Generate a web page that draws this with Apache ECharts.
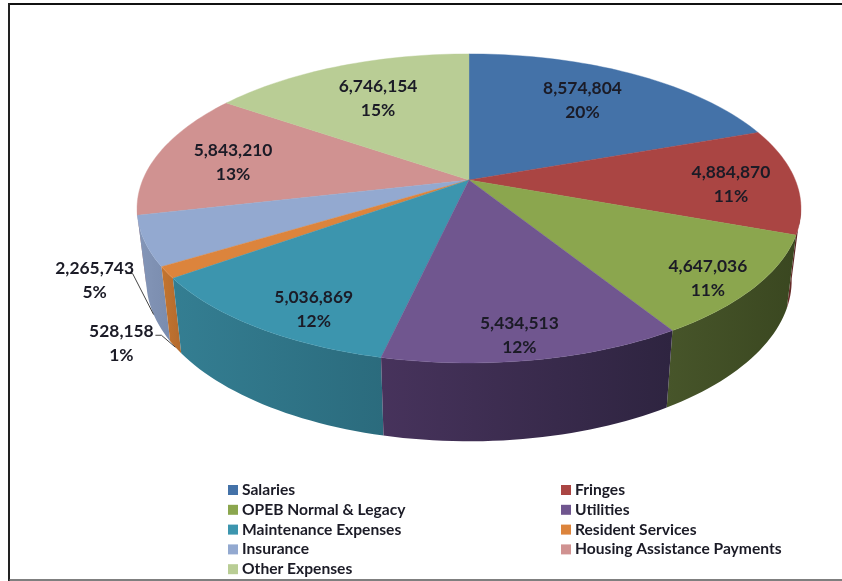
<!DOCTYPE html>
<html>
<head>
<meta charset="utf-8">
<title>Expenses by category</title>
<script src="https://cdn.jsdelivr.net/npm/echarts@6/dist/echarts.min.js"></script>
<style>
html,body{margin:0;padding:0;background:#fff}
#chart{width:842px;height:581px}
</style>
</head>
<body>
<div id="chart"></div>
<script>
// Expense categories and amounts, clockwise from twelve o'clock
const categories = ['Salaries','Fringes','OPEB Normal & Legacy','Utilities','Maintenance Expenses','Resident Services','Insurance','Housing Assistance Payments','Other Expenses'];
const amounts = [8574804,4884870,4647036,5434513,5036869,528158,2265743,5843210,6746154];
const percentLabels = ['20%','11%','11%','12%','12%','1%','5%','13%','15%'];

// Surface and wall shades per slice
const topColors  = ['#4472a8','#aa4543','#8ba64e','#70568f','#3c95ae','#dc843c','#93a9d0','#d09291','#b9cd95'];
const wallLight  = ['#2c4a6e','#6e2d2b','#47552a','#47335c','#347e92','#c4752f','#8496b8','#b08080','#9aab7c'];
const wallDark   = ['#2c4a6e','#4e2020','#3a4720','#2e2440','#2b6b7d','#b36a2e','#7a8cae','#b08080','#9aab7c'];

// Tilted-disc projection
const CX = 469, CY = 180, RX = 326.3, RY = 149.3, PERSP = 0.184;
const RIM_SCALE_X = 0.972, RIM_SCALE_Y = 1.04, RIM_DROP = 71;
const WALL_FROM = 100, WALL_TO = 260;
const LABEL_FONT = 'Lato, "Open Sans", sans-serif';

// Where each inside label sits on the disc: radius fraction and angular nudge
const labelRadius = [0.71,0.80,0.875,0.88,0.85,0,0,0.75,0.69];
const labelNudge  = [-2.2,1.2,2.4,1,-4.5,0,0,-1.3,0.9];
// Callouts for the two thin slices: elbow and text offset from the rim point
const calloutElbow = {5:[-14,-12],6:[-21,-41]};
const calloutTail  = {5:-6,6:-7};
const calloutText  = {5:[-34,8],6:[-31,7]};

const total = amounts.reduce((a,b)=>a+b,0);
const bounds = [0];
amounts.forEach(v=>bounds.push(bounds[bounds.length-1]+v/total*360));

function topPoint(deg, r){
  const t = deg*Math.PI/180, u = r*Math.sin(t), v = -r*Math.cos(t), w = 1-PERSP*v;
  return [CX+RX*u/w, CY+RY*v/w];
}
function rimPoint(deg){
  const p = topPoint(deg,1);
  return [CX+(p[0]-CX)*RIM_SCALE_X, CY+(p[1]-CY)*RIM_SCALE_Y+RIM_DROP];
}
function arc(fn,a,b){
  const n = Math.max(2,Math.ceil(Math.abs(b-a)/1.5)), pts=[];
  for(let i=0;i<=n;i++) pts.push(fn(a+(b-a)*i/n));
  return pts;
}

function renderSlice(params){
  const i = drawOrder[params.dataIndex], a = bounds[i], b = bounds[i+1];
  const kids = [];
  // Outer wall for the part of the slice that faces the viewer
  const fa = Math.max(a,WALL_FROM), fb = Math.min(b,WALL_TO);
  if(fb>fa){
    const upper = arc(d=>topPoint(d,1),fa,fb), lower = arc(rimPoint,fa,fb);
    const xs = upper.concat(lower).map(p=>p[0]);
    kids.push({type:'polygon',shape:{points:upper.concat(lower.reverse())},
      style:{fill:new echarts.graphic.LinearGradient(Math.min(...xs),0,Math.max(...xs),0,
        [{offset:0,color:wallLight[i]},{offset:1,color:wallDark[i]}],true),
        stroke:null}});
  }
  // Top surface
  const surface = [[CX,CY]].concat(arc(d=>topPoint(d,1),a,b));
  kids.push({type:'polygon',shape:{points:surface},style:{fill:topColors[i],stroke:topColors[i],lineWidth:0.4}});
  return {type:'group',children:kids};
}

function renderLabel(params){
  const i = params.dataIndex, mid = (bounds[i]+bounds[i+1])/2;
  const text = amounts[i].toLocaleString('en-US')+'\n'+percentLabels[i];
  const textStyle = {text,fontFamily:LABEL_FONT,fontWeight:700,fontSize:17.4,lineHeight:24,fill:'#1b1b26',align:'center',verticalAlign:'middle'};
  if(calloutElbow[i]){
    const end = rimPoint(mid), e = calloutElbow[i];
    const elbow = [end[0]+e[0],end[1]+e[1]];
    const tail = [elbow[0]+calloutTail[i],elbow[1]];
    const off = calloutText[i];
    return {type:'group',children:[
      {type:'polyline',shape:{points:[tail,elbow,end]},style:{stroke:'#444',lineWidth:1,fill:null}},
      {type:'text',style:Object.assign({},textStyle,{x:tail[0]+off[0],y:tail[1]+off[1]})}
    ]};
  }
  const p = topPoint(mid+labelNudge[i],labelRadius[i]);
  return {type:'text',style:Object.assign({},textStyle,{x:p[0],y:p[1]+1})};
}

const chart = echarts.init(document.getElementById('chart'),null,{renderer:'canvas'});
const legendBase = {orient:'vertical',icon:'rect',itemWidth:10,itemHeight:10,itemGap:3.8,top:482,padding:0,height:100,
  selectedMode:false,textStyle:{fontFamily:LABEL_FONT,fontWeight:700,fontSize:15.6,lineHeight:16,color:'#1b1b26',padding:[0,0,0,-1]}};
const sliceData = categories.map((name,i)=>({name,value:amounts[i],itemStyle:{color:topColors[i]}}));
// Walls must stack from the sides toward the front
const drawOrder = [0,1,7,8,6,5,4,2,3];

chart.setOption({
  animation:false,
  backgroundColor:'#fff',
  legend:[
    Object.assign({},legendBase,{left:228,data:categories.filter((_,i)=>i%2===0)}),
    Object.assign({},legendBase,{left:561,data:categories.filter((_,i)=>i%2===1)})
  ],
  graphic:[
    {type:'line',shape:{x1:9,y1:4,x2:842,y2:4},style:{stroke:'#111',lineWidth:2},silent:true},
    {type:'line',shape:{x1:9,y1:3,x2:9,y2:581},style:{stroke:'#222',lineWidth:2},silent:true},
    {type:'line',shape:{x1:9,y1:580,x2:842,y2:580},style:{stroke:'#555',lineWidth:1.5},silent:true}
  ],
  series:[
    // Zero-size pie that feeds the legend
    {type:'pie',radius:[0,0],center:[CX,CY],label:{show:false},labelLine:{show:false},silent:true,data:sliceData},
    {type:'custom',coordinateSystem:'none',silent:true,renderItem:renderSlice,data:drawOrder.map(i=>amounts[i])},
    {type:'custom',coordinateSystem:'none',silent:true,renderItem:renderLabel,z:5,data:amounts}
  ]
});
</script>
</body>
</html>
